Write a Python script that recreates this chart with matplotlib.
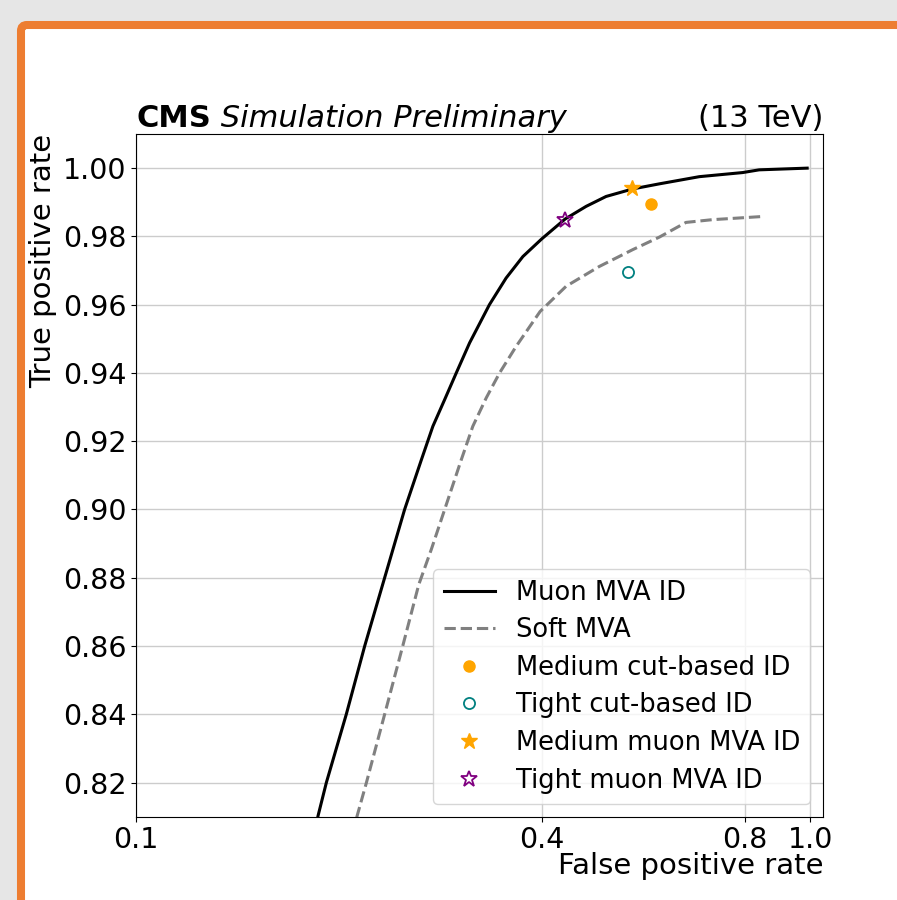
"""ROC curves for muon identification, CMS style, inside an orange slide frame."""

import matplotlib
matplotlib.use("Agg")
import matplotlib.patches as patches
import matplotlib.pyplot as plt

# Muon MVA ID ROC curve (false positive rate, true positive rate)
mva_fpr = [0.1840, 0.1862, 0.1916, 0.2051, 0.2184, 0.2338, 0.2503, 0.2651,
           0.2757, 0.2870, 0.2986, 0.3125, 0.3344, 0.3540, 0.3749, 0.4000,
           0.4331, 0.4653, 0.4981, 0.5453, 0.5976, 0.6849, 0.7940, 0.8402,
           0.9900]
mva_tpr = [0.8050, 0.8102, 0.8200, 0.8400, 0.8600, 0.8800, 0.9000, 0.9146,
           0.9244, 0.9322, 0.9400, 0.9488, 0.9600, 0.9678, 0.9741, 0.9793,
           0.9851, 0.9888, 0.9917, 0.9939, 0.9954, 0.9975, 0.9987, 0.9995,
           1.0000]

# Soft MVA ROC curve
soft_fpr = [0.2100, 0.2128, 0.2197, 0.2338, 0.2487, 0.2627, 0.2742, 0.2870,
            0.3038, 0.3160, 0.3308, 0.3462, 0.3664, 0.3976, 0.4346, 0.4868,
            0.5453, 0.5976, 0.6545, 0.7157, 0.8453]
soft_tpr = [0.8050, 0.8102, 0.8200, 0.8400, 0.8600, 0.8780, 0.8883, 0.9000,
            0.9146, 0.9244, 0.9327, 0.9400, 0.9478, 0.9580, 0.9654, 0.9712,
            0.9761, 0.9798, 0.9841, 0.9849, 0.9858]

# working points
wp_labels = ["Medium cut-based ID", "Tight cut-based ID",
             "Medium muon MVA ID", "Tight muon MVA ID"]
wp_fpr = [0.5808, 0.5375, 0.5444, 0.4335]
wp_tpr = [0.98955, 0.96956, 0.99415, 0.9849]

x_ticks = [0.1, 0.4, 0.8, 1.0]
x_ticklabels = ["0.1", "0.4", "0.8", "1.0"]
y_ticks = [0.82, 0.84, 0.86, 0.88, 0.90, 0.92, 0.94, 0.96, 0.98, 1.00]

W, H, DPI = 897, 900, 100
fig = plt.figure(figsize=(W / DPI, H / DPI), dpi=DPI)
fig.patch.set_facecolor("#e6e6e6")

# orange slide frame running off the right and bottom edges
frame = patches.FancyBboxPatch(
    (0.21, -1.0), 10.0, 9.75,
    boxstyle="round,pad=0,rounding_size=0.06",
    transform=fig.dpi_scale_trans,
    facecolor="white", edgecolor="#ed7d31", linewidth=5.8, zorder=-10,
)
fig.patches.append(frame)

ax = fig.add_axes([136 / W, 1 - 816.7 / H, (823 - 136) / W, (816.7 - 134) / H])
ax.set_xscale("log")
ax.set_xlim(0.1, 1.045)
ax.set_ylim(0.81, 1.01)

ax.plot(mva_fpr, mva_tpr, color="black", lw=2.2, label="Muon MVA ID")
ax.plot(soft_fpr, soft_tpr, color="gray", lw=2.2, ls="--", label="Soft MVA")
ax.plot(wp_fpr[0], wp_tpr[0], "o", color="orange", ms=8, ls="none",
        label=wp_labels[0])
ax.plot(wp_fpr[1], wp_tpr[1], "o", mfc="none", mec="teal", mew=1.3, ms=8,
        ls="none", label=wp_labels[1])
ax.plot(wp_fpr[2], wp_tpr[2], "*", color="orange", ms=12, ls="none",
        label=wp_labels[2])
ax.plot(wp_fpr[3], wp_tpr[3], "*", mfc="none", mec="purple", mew=1.3, ms=12,
        ls="none", label=wp_labels[3])

ax.set_xticks(x_ticks)
ax.set_xticklabels(x_ticklabels)
ax.xaxis.set_minor_locator(matplotlib.ticker.NullLocator())
ax.set_yticks(y_ticks)
ax.set_yticklabels([f"{v:.2f}" for v in y_ticks])
ax.tick_params(labelsize=20.5)
ax.grid(True, color="#cccccc", lw=1)

ax.set_xlabel("False positive rate", fontsize=21, loc="right", labelpad=-2)
ax.set_ylabel("True positive rate", fontsize=21, loc="top", labelpad=4)

cms = ax.text(0, 1.002, "CMS", transform=ax.transAxes, fontsize=22,
              fontweight="bold", va="bottom", ha="left")
ax.annotate(" Simulation Preliminary", xy=(1, 0), xycoords=cms,
            fontsize=22, style="italic", va="bottom", ha="left")
ax.text(1, 1.002, "(13 TeV)", transform=ax.transAxes, fontsize=22,
        va="bottom", ha="right")

ax.legend(loc="lower right", fontsize=18.5, numpoints=1, labelspacing=0.45)

fig.savefig("out.png", dpi=DPI, facecolor=fig.get_facecolor())
